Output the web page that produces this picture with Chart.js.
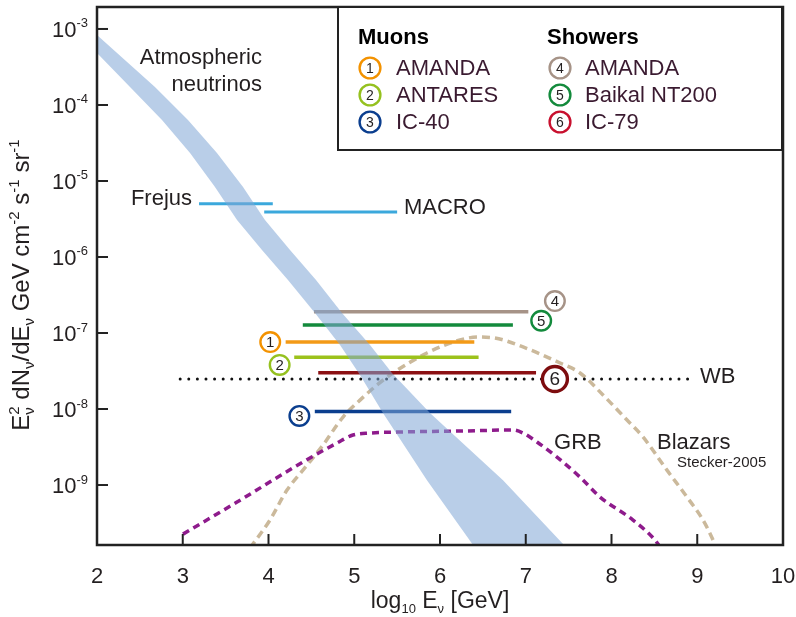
<!DOCTYPE html>
<html>
<head>
<meta charset="utf-8">
<style>html,body{margin:0;padding:0;background:#fff;}canvas{display:block;}</style>
<script src="https://cdn.jsdelivr.net/npm/chart.js@4.4.1/dist/chart.umd.min.js"></script>
</head>
<body>
<canvas id="c" width="796" height="617"></canvas>
<script>
// ---- axes ----
const xTicks = [2, 3, 4, 5, 6, 7, 8, 9, 10];
const yDecades = [-3, -4, -5, -6, -7, -8, -9];
const xMin = 2, xMax = 10;
const yMin = Math.pow(10, -9.789), yMax = Math.pow(10, -2.711);

// ---- atmospheric neutrino band (upper and lower edges) ----
const bandUpperX = [2.000, 2.676, 3.061, 3.399, 3.703, 3.959, 4.251, 4.554, 4.857, 5.184, 5.440, 5.883, 6.735, 7.446, 7.749];
const bandUpperY = [8.34e-4, 1.73e-4, 6.35e-5, 2.33e-5, 8.34e-6, 3.07e-6, 1.24e-6, 4.98e-7, 1.83e-7, 6.95e-8, 2.98e-8, 8.85e-9, 1.16e-9, 1.63e-10, 7.6e-11];
const bandLowerX = [2.000, 2.385, 2.758, 3.085, 3.376, 3.633, 3.924, 4.227, 4.542, 4.834, 5.067, 5.335, 5.848, 6.385, 6.583];
const bandLowerY = [4.83e-4, 1.73e-4, 6.35e-5, 2.33e-5, 8.34e-6, 3.07e-6, 1.24e-6, 4.98e-7, 1.83e-7, 6.95e-8, 2.80e-8, 8.85e-9, 1.16e-9, 1.63e-10, 7.6e-11];

// ---- GRB model ----
const grbX = [3.003, 3.633, 4.402, 4.799, 4.985, 5.184, 5.499, 6.268, 6.851, 6.968, 7.131, 7.364, 7.633, 7.866, 8.251, 8.507, 8.566];
const grbY = [2.26e-10, 5.97e-10, 2.01e-9, 3.57e-9, 4.55e-9, 4.83e-9, 4.98e-9, 5.14e-9, 5.30e-9, 4.83e-9, 3.68e-9, 2.33e-9, 1.27e-9, 6.95e-10, 3.46e-10, 1.89e-10, 1.53e-10];

// ---- Blazar model (Stecker 2005) ----
const blazarX = [3.784, 4.017, 4.216, 4.402, 4.636, 4.869, 5.067, 5.265, 5.452, 5.848, 6.233, 6.443, 6.641, 6.968, 7.400, 7.633, 7.901, 8.181, 8.367, 8.647, 8.880, 9.067, 9.184, 9.230];
const blazarY = [1.48e-10, 3.46e-10, 8.59e-10, 1.57e-9, 3.36e-9, 7.85e-9, 1.31e-8, 2.07e-8, 2.98e-8, 5.46e-8, 8.09e-8, 8.85e-8, 8.59e-8, 6.55e-8, 4.03e-8, 2.98e-8, 1.53e-8, 7.16e-9, 4.29e-9, 1.57e-9, 6.95e-10, 3.46e-10, 1.89e-10, 1.40e-10];

// ---- experimental upper limits ----
const limitNames = ['Frejus', 'MACRO', 'AMANDA showers', 'Baikal NT200', 'AMANDA muons', 'ANTARES', 'IC-79', 'IC-40'];
const limitFrom = [3.19, 3.95, 4.53, 4.40, 4.20, 4.30, 4.58, 4.54];
const limitTo   = [4.05, 5.50, 7.03, 6.85, 6.40, 6.45, 7.12, 6.83];
const limitFlux = [5.0e-6, 3.9e-6, 1.9e-7, 1.27e-7, 7.6e-8, 4.8e-8, 3.0e-8, 9.3e-9];

// ---- Waxman-Bahcall bound ----
const wbFrom = 2.97, wbTo = 8.95, wbFlux = 2.48e-8;

// ---- numbered markers ----
const markerLabels = ['1', '2', '3', '4', '5', '6'];
const markerX = [4.02, 4.13, 4.36, 7.34, 7.18, 7.34];
const markerY = [7.6e-8, 3.8e-8, 8.1e-9, 2.63e-7, 1.45e-7, 2.48e-8];

// ---- legend ----
const muonNames = ['AMANDA', 'ANTARES', 'IC-40'];
const showerNames = ['AMANDA', 'Baikal NT200', 'IC-79'];

// ---- styles ----
const FONT = '"Liberation Sans", Arial, Helvetica, sans-serif';
const INK = '#231f20';
const LEGEND_INK = '#3a1a30';
const limitColors = ['#3ba8dc', '#3ba8dc', '#a69387', '#138a3c', '#f39a17', '#9cc21b', '#8c1114', '#0b3e8e'];
const limitWidths = [3, 3, 3.5, 3.5, 3.5, 3.5, 3.5, 3.5];
const markerColors = ['#f39200', '#95c11f', '#0b3e8e', '#a69387', '#138a3c', '#7d0c0e'];
const markerRadius = [9.8, 9.8, 9.8, 9.8, 9.8, 12.5];
const markerBorder = [2.4, 2.4, 2.4, 2.4, 2.4, 3.4];
const legendMuonColors = ['#f39200', '#95c11f', '#0b3e8e'];
const legendShowerColors = ['#a69387', '#138a3c', '#c8102e'];

function font(size, bold) { return (bold ? 'bold ' : '') + size + 'px ' + FONT; }
function pts(xs, ys) { return xs.map((x, i) => ({ x: x, y: ys[i] })); }

const bandPolygon = pts(bandUpperX, bandUpperY).concat(pts(bandLowerX, bandLowerY).reverse());

const datasets = [];
datasets.push({
  label: 'Atmospheric neutrinos',
  data: bandPolygon,
  fill: 'shape',
  backgroundColor: 'rgba(128,166,214,0.55)',
  borderColor: 'rgba(0,0,0,0)',
  borderWidth: 0,
  pointRadius: 0,
  tension: 0,
  order: 0,
  clip: 0
});
const markerIndex = datasets.length;
datasets.push({
  label: 'markers',
  data: pts(markerX, markerY),
  showLine: false,
  pointRadius: markerRadius,
  pointHoverRadius: markerRadius,
  pointBorderWidth: markerBorder,
  pointBackgroundColor: '#ffffff',
  pointBorderColor: markerColors,
  order: 1
});
limitNames.forEach((name, i) => {
  datasets.push({
    label: name,
    data: [{ x: limitFrom[i], y: limitFlux[i] }, { x: limitTo[i], y: limitFlux[i] }],
    borderColor: limitColors[i],
    borderWidth: limitWidths[i],
    pointRadius: 0,
    fill: false,
    order: 2
  });
});
datasets.push({
  label: 'WB',
  data: [{ x: wbFrom, y: wbFlux }, { x: wbTo, y: wbFlux }],
  borderColor: '#111111',
  borderWidth: 3,
  borderDash: [0, 8.6],
  borderCapStyle: 'round',
  pointRadius: 0,
  fill: false,
  order: 3
});
datasets.push({
  label: 'GRB',
  data: pts(grbX, grbY),
  borderColor: '#8e1b8c',
  borderWidth: 3.5,
  borderDash: [7, 5],
  cubicInterpolationMode: 'monotone',
  pointRadius: 0,
  fill: false,
  clip: 0,
  order: 3
});
datasets.push({
  label: 'Blazars',
  data: pts(blazarX, blazarY),
  borderColor: '#cbb99b',
  borderWidth: 3.5,
  borderDash: [8, 5],
  cubicInterpolationMode: 'monotone',
  pointRadius: 0,
  fill: false,
  clip: 0,
  order: 3
});

// text notes placed in data coordinates
const notes = [
  { t: 'Atmospheric', x: 3.924, ly: -3.382, align: 'right', size: 22 },
  { t: 'neutrinos', x: 3.924, ly: -3.737, align: 'right', size: 22 },
  { t: 'Frejus', x: 3.108, ly: -5.237, align: 'right', size: 22 },
  { t: 'MACRO', x: 5.580, ly: -5.355, align: 'left', size: 22 },
  { t: 'WB', x: 9.032, ly: -7.579, align: 'left', size: 22 },
  { t: 'GRB', x: 7.33, ly: -8.447, align: 'left', size: 22 },
  { t: 'Blazars', x: 8.531, ly: -8.447, align: 'left', size: 22 },
  { t: 'Stecker-2005', x: 8.764, ly: -8.711, align: 'left', size: 15 }
];

function richWidth(c, parts, base, small) {
  let w = 0;
  for (const p of parts) {
    if (p.stack) {
      c.font = font(small);
      w += Math.max(c.measureText(p.stack[0]).width, c.measureText(p.stack[1]).width);
    } else {
      c.font = font(p.k ? small : base);
      w += c.measureText(p.t).width;
    }
  }
  return w;
}
function drawRich(c, parts, x, baseline, base, small) {
  let cx = x;
  c.textAlign = 'left';
  c.textBaseline = 'alphabetic';
  for (const p of parts) {
    if (p.stack) {
      c.font = font(small);
      c.fillText(p.stack[0], cx, baseline - base * 0.42);
      c.fillText(p.stack[1], cx, baseline + base * 0.22);
      cx += Math.max(c.measureText(p.stack[0]).width, c.measureText(p.stack[1]).width);
    } else if (p.k === 'sup') {
      c.font = font(small);
      c.fillText(p.t, cx, baseline - base * 0.42);
      cx += c.measureText(p.t).width;
    } else if (p.k === 'sub') {
      c.font = font(small);
      c.fillText(p.t, cx, baseline + base * 0.22);
      cx += c.measureText(p.t).width;
    } else {
      c.font = font(base);
      c.fillText(p.t, cx, baseline);
      cx += c.measureText(p.t).width;
    }
  }
}

const yTitle = [
  { t: 'E' }, { stack: ['2', 'ν'] }, { t: ' dN' }, { t: 'ν', k: 'sub' }, { t: '/dE' }, { t: 'ν', k: 'sub' },
  { t: ' GeV cm' }, { t: '-2', k: 'sup' }, { t: ' s' }, { t: '-1', k: 'sup' }, { t: ' sr' }, { t: '-1', k: 'sup' }
];
const xTitle = [
  { t: 'log' }, { t: '10', k: 'sub' }, { t: ' E' }, { t: 'ν', k: 'sub' }, { t: ' [GeV]' }
];

function circleBadge(c, x, y, r, lw, color, label, size) {
  c.beginPath();
  c.arc(x, y, r, 0, Math.PI * 2);
  c.fillStyle = '#fff';
  c.fill();
  c.lineWidth = lw;
  c.strokeStyle = color;
  c.stroke();
  c.fillStyle = INK;
  c.font = font(size);
  c.textAlign = 'center';
  c.textBaseline = 'middle';
  c.fillText(label, x, y + 1);
}

const decorations = {
  id: 'decorations',
  afterDatasetsDraw(chart) {
    const c = chart.ctx;
    const a = chart.chartArea;
    const xs = chart.scales.x, ys = chart.scales.y;
    c.save();

    // digits inside the numbered markers
    const meta = chart.getDatasetMeta(markerIndex);
    meta.data.forEach((el, i) => {
      c.fillStyle = INK;
      c.font = font(i === 5 ? 19 : 15);
      c.textAlign = 'center';
      c.textBaseline = 'middle';
      c.fillText(markerLabels[i], el.x, el.y + 1);
    });

    // frame
    c.strokeStyle = '#222';
    c.lineWidth = 2.5;
    c.strokeRect(a.left, a.top, a.right - a.left, a.bottom - a.top);

    // inward tick marks
    c.lineWidth = 2;
    xTicks.forEach(v => {
      if (v === xMin || v === xMax) return;
      const px = xs.getPixelForValue(v);
      c.beginPath(); c.moveTo(px, a.bottom); c.lineTo(px, a.bottom - 11); c.stroke();
    });
    yDecades.forEach(d => {
      const py = ys.getPixelForValue(Math.pow(10, d));
      c.beginPath(); c.moveTo(a.left, py); c.lineTo(a.left + 11, py); c.stroke();
    });

    // y tick labels 10^d
    c.fillStyle = INK;
    yDecades.forEach(d => {
      const py = ys.getPixelForValue(Math.pow(10, d));
      const exp = String(d);
      c.font = font(13);
      const we = c.measureText(exp).width;
      c.font = font(22);
      const wb = c.measureText('10').width;
      const right = a.left - 9;
      c.textAlign = 'left';
      c.textBaseline = 'alphabetic';
      c.fillText('10', right - we - wb, py + 8);
      c.font = font(13);
      c.fillText(exp, right - we, py - 1.5);
    });

    // notes
    notes.forEach(n => {
      c.font = font(n.size);
      c.fillStyle = INK;
      c.textAlign = n.align;
      c.textBaseline = 'middle';
      c.fillText(n.t, xs.getPixelForValue(n.x), ys.getPixelForValue(Math.pow(10, n.ly)));
    });

    // axis titles
    c.fillStyle = INK;
    let w = richWidth(c, xTitle, 23, 13);
    drawRich(c, xTitle, (a.left + a.right) / 2 - w / 2, 608, 23, 13);
    c.save();
    c.translate(21, 285);
    c.rotate(-Math.PI / 2);
    w = richWidth(c, yTitle, 24, 15);
    drawRich(c, yTitle, -w / 2, 8, 24, 15);
    c.restore();

    // legend box
    const lx = 338, ly = 7, lw = 444, lh = 143;
    c.fillStyle = '#fff';
    c.fillRect(lx, ly, lw, lh);
    c.strokeStyle = '#222';
    c.lineWidth = 2;
    c.strokeRect(lx, ly, lw, lh);
    c.fillStyle = '#000';
    c.font = font(22, true);
    c.textAlign = 'left';
    c.textBaseline = 'middle';
    c.fillText('Muons', 358, 38);
    c.fillText('Showers', 547, 38);
    const rows = [68, 95, 122];
    muonNames.forEach((nm, i) => {
      circleBadge(c, 370, rows[i], 10.4, 2.4, legendMuonColors[i], String(i + 1), 14);
      c.fillStyle = LEGEND_INK; c.font = font(22); c.textAlign = 'left'; c.textBaseline = 'middle';
      c.fillText(nm, 396, rows[i] + 1);
    });
    showerNames.forEach((nm, i) => {
      circleBadge(c, 560, rows[i], 10.4, 2.4, legendShowerColors[i], String(i + 4), 14);
      c.fillStyle = LEGEND_INK; c.font = font(22); c.textAlign = 'left'; c.textBaseline = 'middle';
      c.fillText(nm, 585, rows[i] + 1);
    });
    c.restore();
  }
};

new Chart(document.getElementById('c'), {
  type: 'line',
  data: { datasets: datasets },
  options: {
    responsive: false,
    animation: false,
    devicePixelRatio: 1,
    events: [],
    layout: { autoPadding: false, padding: { top: 7, right: 13, left: 0, bottom: 0 } },
    plugins: { legend: { display: false }, tooltip: { enabled: false } },
    elements: { point: { radius: 0, hoverRadius: 0 }, line: { borderCapStyle: 'butt' } },
    scales: {
      x: {
        type: 'linear',
        min: xMin,
        max: xMax,
        grid: { display: false, drawTicks: false },
        border: { display: false },
        ticks: { stepSize: 1, padding: 19, color: INK, font: { family: FONT, size: 22 } },
        afterFit(s) { s.height = 72; s.paddingLeft = 0; s.paddingRight = 0; }
      },
      y: {
        type: 'logarithmic',
        min: yMin,
        max: yMax,
        grid: { display: false, drawTicks: false },
        border: { display: false },
        ticks: { display: false },
        afterFit(s) { s.width = 97; s.paddingTop = 0; s.paddingBottom = 0; }
      }
    }
  },
  plugins: [decorations]
});
</script>
</body>
</html>
